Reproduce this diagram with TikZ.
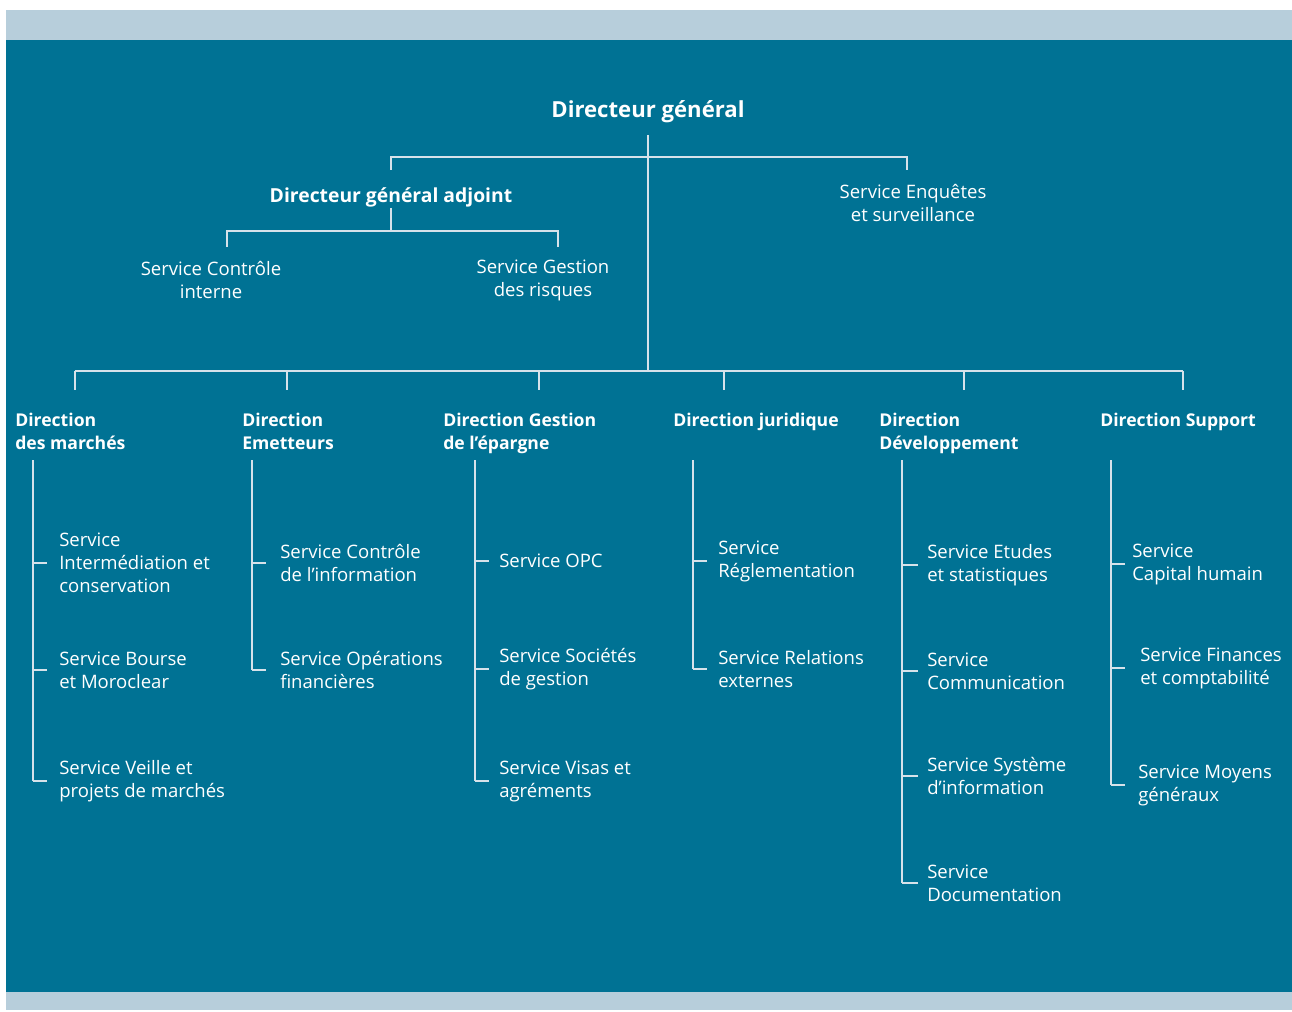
\documentclass[tikz,border=0pt]{standalone}
\usepackage{fontspec}
\setmainfont{Open Sans}
\usepackage{xcolor}
\definecolor{fond}{RGB}{0,114,148}
\definecolor{bande}{RGB}{183,206,219}
\definecolor{trait}{RGB}{214,226,234}

\tikzset{
	chef/.style={text=white, inner sep=0pt, font=\fontsize{16.6}{19}\selectfont\bfseries},
	adjoint/.style={text=white, inner sep=0pt, font=\fontsize{14.5}{17}\selectfont\bfseries},
	dir/.style={text=white, inner sep=0pt, anchor=west, align=left, font=\fontsize{13.2}{17.2}\selectfont\bfseries},
	serv/.style={text=white, inner sep=0pt, anchor=west, align=left, font=\fontsize{13.9}{17.2}\selectfont},
	lien/.style={draw=trait, line width=1pt}
}

\begin{document}
\begin{tikzpicture}[x=0.75pt,y=-0.75pt]
	\useasboundingbox (0,0) rectangle (1292,1012);
	\fill[bande] (6,10) rectangle (1292,40);
	\fill[fond] (6,40) rectangle (1292,992);
	\fill[bande] (6,992) rectangle (1292,1010);

	% haut de l'organigramme
	\node[chef] (dg) at (648,112) {Directeur général};
	\node[adjoint] (dga) at (391,197) {Directeur général adjoint};
	\node[serv,anchor=center,align=center] (enq) at (913,203) {Service Enquêtes\\et surveillance};
	\node[serv,anchor=center,align=center] (sci) at (211,280) {Service Contrôle\\interne};
	\node[serv,anchor=center,align=center] (sgr) at (543,280) {Service Gestion\\des risques};

	\coordinate (tronc) at (648,135);
	\coordinate (bus) at (648,371);
	\draw[lien] (tronc) -- (bus);
	\draw[lien] (391,170) -- (391,157) -- (907,157) -- (907,170);
	\coordinate (adj) at (391,208);
	\draw[lien] (adj) -- (391,231);
	\draw[lien] (227,247) -- (227,231) -- (558,231) -- (558,247);

	% directions
	\draw[lien] (75,371) -- (1183,371);
	\foreach \x in {75,287,539,724,964,1183}
		\draw[lien] (\x,371) -- (\x,390);

	\node[dir] (dm) at (15,431) {Direction\\des marchés};
	\node[dir] (de) at (242,431) {Direction\\Emetteurs};
	\node[dir] (dge) at (443,433) {Direction Gestion\\de l'épargne};
	\node[dir] (dj) at (673,422) {Direction juridique};
	\node[dir] (dd) at (879,433) {Direction\\Développement};
	\node[dir] (ds) at (1100,422) {Direction Support};

	% services
	\node[serv] (s11) at (59,563) {Service\\Intermédiation et\\conservation};
	\node[serv] (s12) at (59,670) {Service Bourse\\et Moroclear};
	\node[serv] (s13) at (59,781) {Service Veille et\\projets de marchés};

	\node[serv] (s21) at (280,563) {Service Contrôle\\de l'information};
	\node[serv] (s22) at (280,670) {Service Opérations\\financières};

	\node[serv] (s31) at (499,561) {Service OPC};
	\node[serv] (s32) at (499,669) {Service Sociétés\\de gestion};
	\node[serv] (s33) at (499,781) {Service Visas et\\agréments};

	\node[serv] (s41) at (718,561) {Service\\Réglementation};
	\node[serv] (s42) at (718,669) {Service Relations\\externes};

	\node[serv] (s51) at (927,565) {Service Etudes\\et statistiques};
	\node[serv] (s52) at (927,671) {Service\\Communication};
	\node[serv] (s53) at (927,776) {Service Système\\d'information};
	\node[serv] (s54) at (927,883) {Service\\Documentation};

	\node[serv] (s61) at (1132,564) {Service\\Capital humain};
	\node[serv] (s62) at (1140,668) {Service Finances\\et comptabilité};
	\node[serv] (s63) at (1138,785) {Service Moyens\\généraux};

	\coordinate (c1) at (33,460);
	\coordinate (c2) at (252,460);
	\coordinate (c3) at (475,460);
	\coordinate (c4) at (693,460);
	\coordinate (c5) at (902,460);
	\coordinate (c6) at (1111,460);

	\draw[lien] (c1) -- (c1 |- s13.west);
	\foreach \s in {s11,s12,s13}
		\draw[lien] (c1 |- \s.west) -- ++(14,0);
	\draw[lien] (c2) -- (c2 |- s22.west);
	\foreach \s in {s21,s22}
		\draw[lien] (c2 |- \s.west) -- ++(14,0);
	\draw[lien] (c3) -- (c3 |- s33.west);
	\foreach \s in {s31,s32,s33}
		\draw[lien] (c3 |- \s.west) -- ++(14,0);
	\draw[lien] (c4) -- (c4 |- s42.west);
	\foreach \s in {s41,s42}
		\draw[lien] (c4 |- \s.west) -- ++(14,0);
	\draw[lien] (c5) -- (c5 |- s54.west);
	\foreach \s in {s51,s52,s53,s54}
		\draw[lien] (c5 |- \s.west) -- ++(16,0);
	\draw[lien] (c6) -- (c6 |- s63.west);
	\foreach \s in {s61,s62,s63}
		\draw[lien] (c6 |- \s.west) -- ++(14,0);
\end{tikzpicture}
\end{document}
